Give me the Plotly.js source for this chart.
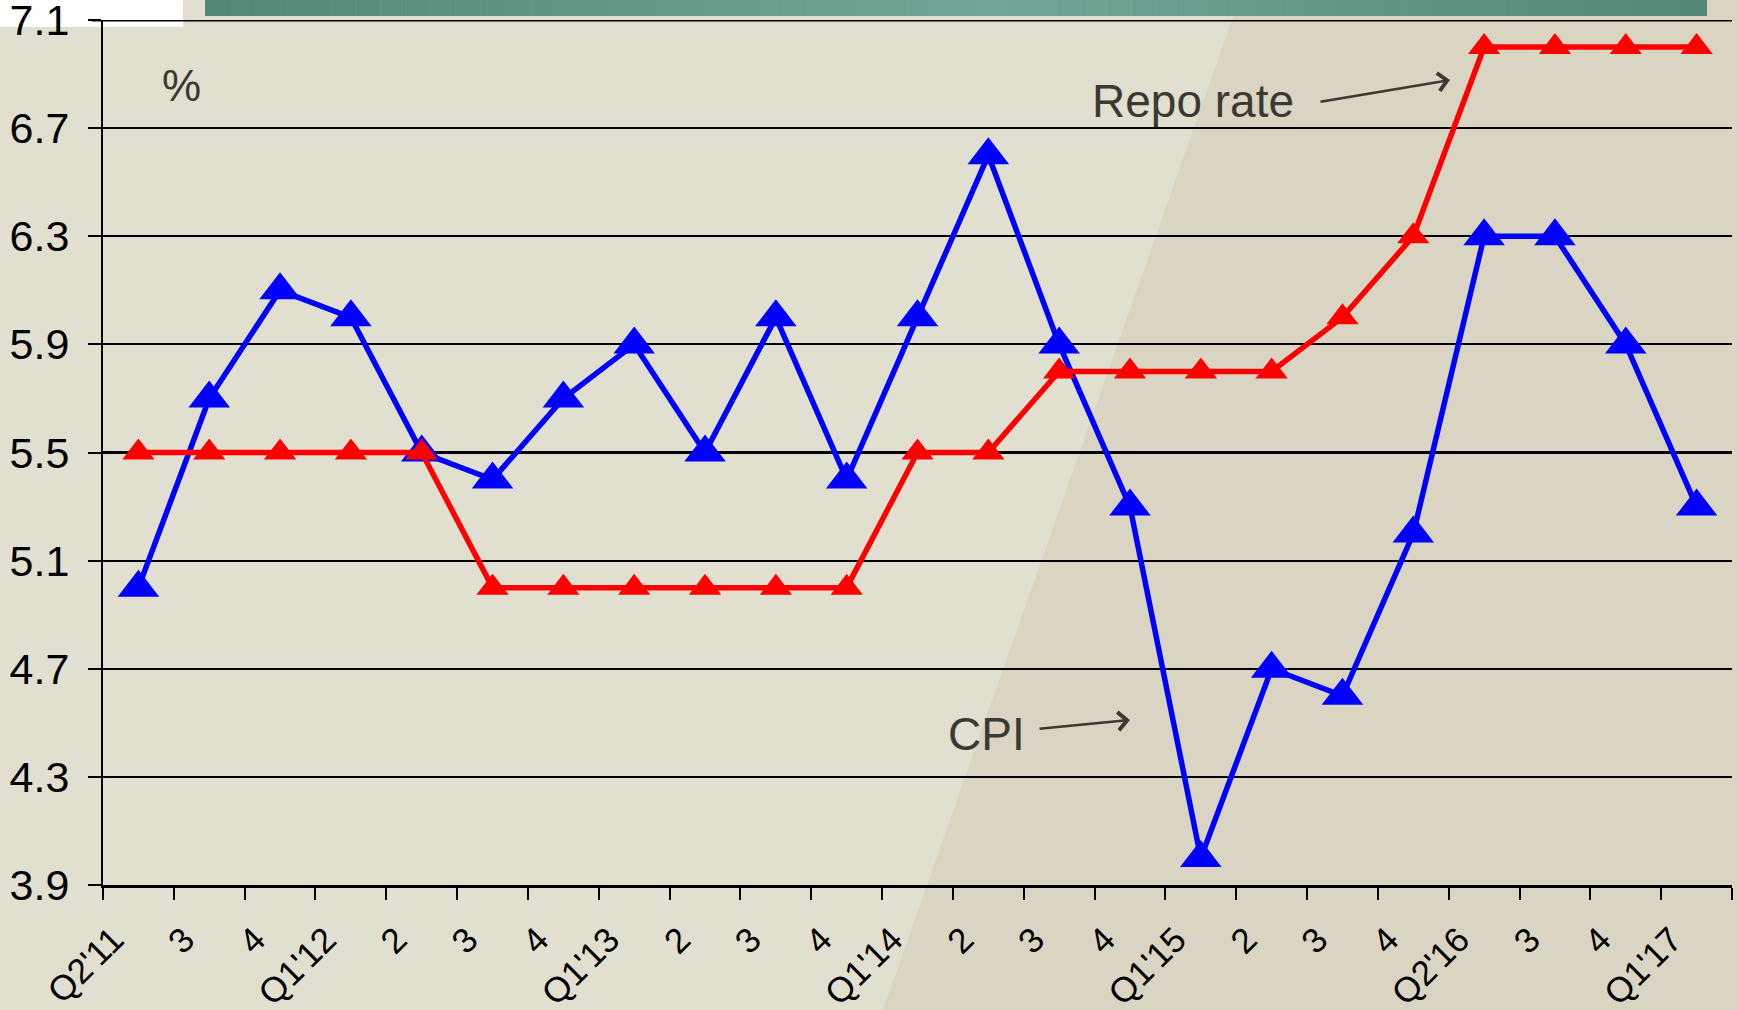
<!DOCTYPE html>
<html>
<head>
<meta charset="utf-8">
<script src="https://cdn.plot.ly/plotly-3.0.1.min.js"></script>
<style>
  html, body { margin: 0; padding: 0; background: #e1dfd0; }
  #plot { width: 1738px; height: 1010px; }
</style>
</head>
<body>
<div id="plot"></div>
<script>
// quarters, Q2'11 .. Q1'17
let quarters = ["Q2'11", "Q3'11", "Q4'11", "Q1'12", "Q2'12", "Q3'12", "Q4'12", "Q1'13", "Q2'13", "Q3'13", "Q4'13",
    "Q1'14", "Q2'14", "Q3'14", "Q4'14", "Q1'15", "Q2'15", "Q3'15", "Q4'15", "Q1'16", "Q2'16", "Q3'16", "Q4'16"];
let tickLabels = ["Q2'11", "3", "4", "Q1'12", "2", "3", "4", "Q1'13", "2", "3", "4",
    "Q1'14", "2", "3", "4", "Q1'15", "2", "3", "4", "Q2'16", "3", "4", "Q1'17"];
let cpi = [5.0, 5.7, 6.1, 6.0, 5.5, 5.4, 5.7, 5.9, 5.5, 6.0, 5.4,
    6.0, 6.6, 5.9, 5.3, 4.0, 4.7, 4.6, 5.2, 6.3, 6.3, 5.9, 5.3];
let repo = [5.5, 5.5, 5.5, 5.5, 5.5, 5.0, 5.0, 5.0, 5.0, 5.0, 5.0,
    5.5, 5.5, 5.8, 5.8, 5.8, 5.8, 6.0, 6.3, 7.0, 7.0, 7.0, 7.0];

let yTicks = [3.9, 4.3, 4.7, 5.1, 5.5, 5.9, 6.3, 6.7, 7.1];

// plot area in page pixels
let L = 103, R = 1732, T = 20, B = 885;
let W = 1738, H = 1010;
let px = x => (x - L) / (R - L);
let py = y => (B - y) / (B - T);

let idx = quarters.map((q, i) => i);

let traces = [
    {
        // only carries the tick labels on xaxis2
        x: idx, y: cpi, xaxis: "x2", mode: "markers",
        marker: { opacity: 0 }, hoverinfo: "skip", showlegend: false
    },
    {
        x: idx, y: cpi, name: "CPI", mode: "lines+markers",
        line: { color: "#0000ff", width: 5.5 },
        marker: { symbol: "triangle-up", size: 36, color: "#0000ff" }
    },
    {
        x: idx, y: repo, name: "Repo rate", mode: "lines+markers",
        line: { color: "#ff0000", width: 5.5 },
        marker: { symbol: "triangle-up", size: 28, color: "#ff0000" }
    }
];

let shapes = [];

// darker diagonal panel on the right
shapes.push({
    type: "path", xref: "paper", yref: "paper", layer: "below",
    path: "M" + px(1239) + "," + py(0) + " L" + px(W) + "," + py(0) + " L" + px(W) + "," + py(H) +
        " L" + px(883) + "," + py(H) + " Z",
    fillcolor: "#dad5c3", line: { width: 0 }
});

// white corner box top left
shapes.push({
    type: "rect", xref: "paper", yref: "paper", layer: "below",
    x0: px(0), x1: px(183), y0: py(0), y1: py(27),
    fillcolor: "#ffffff", line: { width: 0 }
});

// title banner (cut off), fake gradient with slices
function lerp(a, b, t) { return Math.round(a + (b - a) * t); }
let cEdge = [82, 134, 118], cMid = [114, 166, 152];
let bx0 = 205, bx1 = 1707, bmid = 1000, n = 60;
for (let i = 0; i < n; i++) {
    let xa = bx0 + (bx1 - bx0) * i / n;
    let xb = bx0 + (bx1 - bx0) * (i + 1) / n + 0.5;
    let xc = (xa + xb) / 2;
    let t = xc < bmid ? (xc - bx0) / (bmid - bx0) : (bx1 - xc) / (bx1 - bmid);
    let c = cEdge.map((v, k) => lerp(v, cMid[k], t));
    shapes.push({
        type: "rect", xref: "paper", yref: "paper", layer: "below",
        x0: px(xa), x1: px(Math.min(xb, bx1)), y0: py(0), y1: py(16),
        fillcolor: "rgb(" + c.join(",") + ")", line: { width: 0 }
    });
}

// top gridline (plotly skips the one on the plot edge)
shapes.push({
    type: "line", xref: "paper", yref: "y", layer: "below",
    x0: px(92), x1: 1, y0: yTicks[yTicks.length - 1], y1: yTicks[yTicks.length - 1],
    line: { color: "#000000", width: 3 }
});

let noteFont = { family: "Liberation Sans, Arial, sans-serif", size: 46, color: "#3a3a32" };

let annotations = [
    { xref: "paper", yref: "paper", x: px(181), y: py(86), xanchor: "center", yanchor: "middle",
      text: "%", showarrow: false,
      font: { family: "Liberation Sans, Arial, sans-serif", size: 44, color: "#3a3a32" } },
    { xref: "paper", yref: "paper", x: px(1193), y: py(101), xanchor: "center", yanchor: "middle",
      text: "Repo rate", showarrow: false, font: noteFont },
    { xref: "paper", yref: "paper", x: px(987), y: py(734), xanchor: "center", yanchor: "middle",
      text: "CPI", showarrow: false, font: noteFont },
    // arrows
    { xref: "paper", yref: "paper", x: px(1450), y: py(80), text: "", showarrow: true,
      axref: "pixel", ayref: "pixel", ax: -131, ay: 22,
      arrowhead: 4, arrowsize: 1.4, arrowwidth: 2.5, arrowcolor: "#3a3a32" },
    { xref: "paper", yref: "paper", x: px(1130), y: py(720), text: "", showarrow: true,
      axref: "pixel", ayref: "pixel", ax: -92, ay: 9,
      arrowhead: 4, arrowsize: 1.4, arrowwidth: 2.5, arrowcolor: "#3a3a32" }
];

let tickFont = { family: "Liberation Sans, Arial, sans-serif", size: 43, color: "#000000" };

let layout = {
    width: W, height: H,
    margin: { l: L, r: W - R, t: T, b: H - B },
    paper_bgcolor: "#e1dfd0",
    plot_bgcolor: "rgba(0,0,0,0)",
    showlegend: false,
    xaxis: {
        range: [-0.5, 22.5],
        tickmode: "linear", tick0: -0.5, dtick: 1,
        ticks: "outside", ticklen: 12, tickwidth: 2, tickcolor: "#000000",
        showticklabels: false, showgrid: false, zeroline: false,
        showline: true, linecolor: "#000000", linewidth: 2.5
    },
    xaxis2: {
        overlaying: "x", anchor: "y", side: "bottom",
        range: [-0.5, 22.5],
        tickmode: "array", tickvals: idx, ticktext: tickLabels,
        tickangle: -45, ticks: "",
        ticklabelstandoff: 26, ticklabelshift: -25,
        ticklabeloverflow: "allow",
        tickfont: { family: "Liberation Sans, Arial, sans-serif", size: 35, color: "#000000" },
        showgrid: false, zeroline: false, showline: false
    },
    yaxis: {
        range: [3.8999, 7.1001],
        tickmode: "array", tickvals: yTicks, ticktext: yTicks.map(v => v.toFixed(1)),
        ticks: "outside", ticklen: 13, tickwidth: 2, tickcolor: "#000000",
        ticklabelstandoff: 10, ticklabeloverflow: "allow",
        tickfont: tickFont,
        showgrid: true, gridcolor: "#000000", gridwidth: 2.2,
        zeroline: false, showline: true, linecolor: "#000000", linewidth: 2
    },
    shapes: shapes,
    annotations: annotations
};

Plotly.newPlot("plot", traces, layout, { displayModeBar: false, staticPlot: true });
</script>
</body>
</html>
